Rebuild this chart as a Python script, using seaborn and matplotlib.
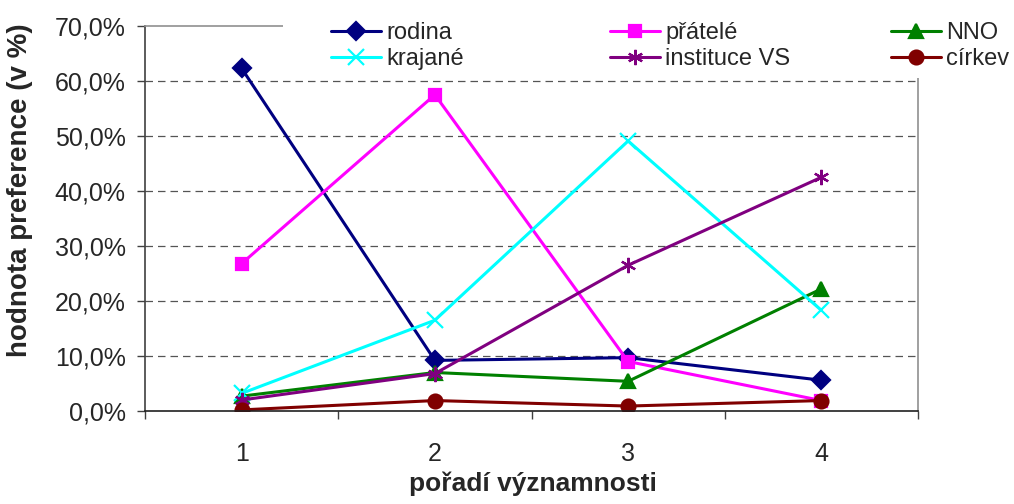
import matplotlib
matplotlib.use("Agg")
import matplotlib.pyplot as plt
from matplotlib.ticker import FuncFormatter, FixedLocator
from matplotlib.patches import Rectangle
import seaborn as sns

# pořadí významnosti (x) and preference values in %
poradi = [1, 2, 3, 4]
rodina = [62.3, 9.2, 9.7, 5.6]
pratele = [26.8, 57.5, 9.0, 1.9]
nno = [2.7, 7.0, 5.4, 22.2]
krajane = [3.2, 16.5, 49.1, 18.3]
instituce_vs = [2.0, 6.8, 26.5, 42.5]
cirkev = [0.2, 1.9, 0.9, 1.9]

series_names = ["rodina", "přátelé", "NNO", "krajané", "instituce VS", "církev"]
series_values = [rodina, pratele, nno, krajane, instituce_vs, cirkev]
colors = ["#000080", "#FF00FF", "#008000", "#00FFFF", "#800080", "#800000"]
markers = ["D", "s", "^", "x", (6, 2, 0), "o"]
msizes = [9, 9, 10, 11, 11, 10]

sns.set_style("white")
plt.rcParams["font.family"] = ["Liberation Sans", "DejaVu Sans"]

fig = plt.figure(figsize=(10.14, 5.04), dpi=100)
ax = fig.add_axes([145 / 1014, 1 - 411 / 504, (918 - 145) / 1014, (411 - 26) / 504])

for name, vals, col, mk, ms in zip(series_names, series_values, colors, markers, msizes):
    sns.lineplot(x=poradi, y=vals, ax=ax, color=col, marker=mk, markersize=ms,
                 markeredgecolor=col, markeredgewidth=1.6, linewidth=2.2,
                 label=name)

ax.set_xlim(0.5, 4.5)
ax.set_ylim(0, 70)

# y axis
ax.yaxis.set_major_locator(FixedLocator(range(0, 71, 10)))
ax.yaxis.set_major_formatter(FuncFormatter(lambda v, p: f"{v:.1f}%".replace(".", ",")))
ax.tick_params(axis="y", which="major", direction="out", length=6, width=1,
               color="#404040", pad=8, labelsize=18, left=True)

# x axis: labels at categories, tick marks between categories
ax.set_xticks(poradi)
ax.set_xticks([0.5, 1.5, 2.5, 3.5, 4.5], minor=True)
ax.tick_params(axis="x", which="major", length=0, pad=22, labelsize=18)
ax.tick_params(axis="x", which="minor", direction="out", length=6, width=1,
               color="#404040", bottom=True)

for y in range(10, 70, 10):
    ax.axhline(y, color="#555555", linestyle=(0, (6, 4)), linewidth=0.9, zorder=0)

for side in ["top", "right"]:
    ax.spines[side].set_color("#909090")
    ax.spines[side].set_linewidth(1.2)
ax.spines["left"].set_color("#404040")
ax.spines["left"].set_linewidth(1.2)
ax.spines["bottom"].set_color("#202020")
ax.spines["bottom"].set_linewidth(1.2)

ax.set_ylabel("hodnota preference (v %)", fontsize=20, fontweight="bold")
ax.yaxis.set_label_coords(33 / 1014, 1 - 190 / 504, transform=fig.transFigure)
ax.set_xlabel("pořadí významnosti", fontsize=19, fontweight="bold")
ax.xaxis.set_label_coords(533 / 1014, 1 - 472 / 504, transform=fig.transFigure)

handles, labels = ax.get_legend_handles_labels()
ax.get_legend().remove()

# white legend area covering the top border
fig.patches.append(Rectangle((283 / 1014, 1 - 78 / 504), 1 - 283 / 1014, 78 / 504,
                             transform=fig.transFigure, facecolor="white",
                             edgecolor="none", zorder=2))

# three fixed-width legend columns, like the original
col_x = [331, 610, 891]
for j in range(3):
    leg = fig.legend([handles[j], handles[j + 3]], [labels[j], labels[j + 3]],
                     loc="upper left", bbox_to_anchor=(col_x[j] / 1014, 1 - 22 / 504),
                     frameon=False, fontsize=17, handlelength=2.1, handletextpad=0.25,
                     labelspacing=0.18, borderpad=0, borderaxespad=0)
    leg.set_zorder(3)

fig.savefig("out.png", dpi=100)
